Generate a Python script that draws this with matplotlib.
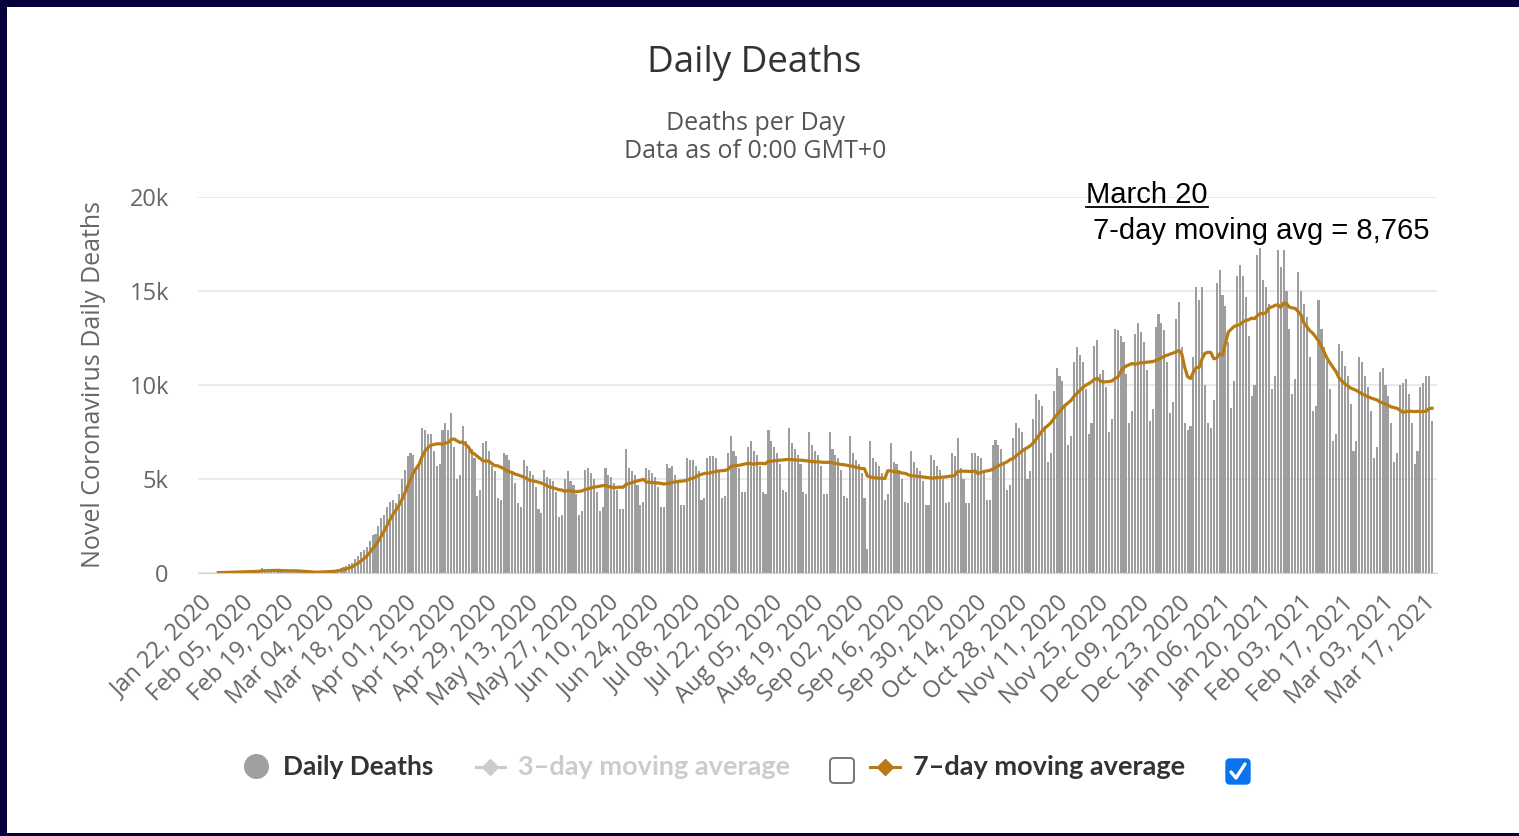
import numpy as np
import pandas as pd
import matplotlib
matplotlib.use('Agg')
import matplotlib.pyplot as plt
from matplotlib.lines import Line2D
from matplotlib.patches import Rectangle, FancyBboxPatch
from matplotlib.transforms import IdentityTransform

# daily deaths, one row per week (Wed .. Tue), starting Jan 22, 2020
start_date = '2020-01-22'
daily_deaths = [
    17, 8, 16, 15, 24, 26, 26,
    38, 43, 46, 45, 57, 64, 66,
    73, 73, 86, 89, 97, 108, 97,
    254, 121, 143, 142, 105, 98, 136,
    115, 118, 109, 97, 150, 71, 52,
    29, 44, 47, 35, 42, 60, 70,
    84, 94, 103, 101, 98, 236, 280,
    330, 380, 470, 520, 760, 900, 1100,
    1200, 1400, 1700, 2000, 2100, 2500, 2900,
    3100, 3500, 3800, 3900, 3700, 4200, 5000,
    5500, 6200, 6400, 6300, 5400, 5800, 7700,
    7600, 7400, 7400, 6500, 5700, 5800, 7600,
    8000, 7600, 8500, 6700, 5000, 5200, 7800,
    7000, 6600, 6600, 6100, 4100, 4400, 6900,
    7000, 6500, 5700, 5400, 4000, 3900, 6400,
    6300, 6000, 5400, 4800, 3700, 3500, 6000,
    5700, 5400, 5200, 4600, 3400, 3200, 5500,
    5100, 5000, 4900, 4300, 3000, 3100, 5000,
    5400, 4900, 4700, 4200, 3100, 3300, 5500,
    5600, 5300, 5000, 4300, 3300, 3500, 5600,
    5200, 5100, 4800, 4400, 3400, 3400, 6600,
    5600, 5400, 5200, 4700, 3600, 3800, 5600,
    5500, 5300, 5100, 4600, 3500, 3500, 5800,
    5600, 5700, 5200, 4800, 3600, 3600, 6100,
    6000, 6000, 5700, 5400, 3900, 4000, 6100,
    6200, 6200, 6100, 5500, 4000, 4100, 6400,
    7300, 6500, 6200, 5600, 4300, 4300, 6700,
    7000, 6500, 6300, 5700, 4300, 4200, 7600,
    7000, 6700, 6400, 5800, 4400, 4300, 7700,
    6900, 6600, 6300, 5800, 4300, 4200, 7500,
    6800, 6500, 6300, 5700, 4200, 4200, 7500,
    6600, 6300, 6100, 5500, 4100, 4000, 7300,
    6400, 6000, 5800, 5300, 4000, 1300, 7000,
    6100, 5900, 5700, 5300, 3900, 4200, 6900,
    5900, 5800, 5500, 5000, 3800, 3700, 6500,
    5900, 5600, 5400, 4900, 3600, 3600, 6300,
    6000, 5700, 5500, 5000, 3700, 3800, 6400,
    6200, 7200, 5600, 5000, 3700, 3700, 6400,
    6400, 6200, 6100, 5300, 3900, 3900, 6800,
    7100, 6800, 6600, 5800, 4400, 4700, 7200,
    8000, 7700, 7500, 6600, 5000, 5400, 8200,
    9500, 9200, 8900, 7800, 5900, 6400, 9700,
    10900, 10500, 10200, 8900, 6800, 7300, 11200,
    12000, 11600, 11200, 9800, 7400, 8000, 12100,
    12400, 10600, 10800, 9900, 7500, 8200, 13000,
    12900, 12600, 12300, 10600, 8000, 8600, 12700,
    13300, 12800, 12300, 10800, 8100, 8700, 13100,
    13800, 13300, 12900, 11200, 8500, 9100, 13500,
    14400, 12000, 8000, 7600, 7800, 11500, 15200,
    14500, 15200, 10000, 8000, 7700, 9200, 15400,
    16100, 14800, 14200, 12300, 8800, 10200, 15800,
    16400, 15800, 14700, 12600, 9400, 10000, 16900,
    17300, 15600, 15200, 14300, 9800, 10500, 17200,
    16300, 17200, 15000, 13000, 9500, 10300, 16000,
    15000, 14300, 13600, 11500, 8600, 8900, 14500,
    13000, 12000, 11300, 9800, 7000, 7400, 12200,
    11800, 11000, 10500, 9000, 6500, 7000, 11500,
    11200, 10500, 9900, 8600, 6100, 6700, 10700,
    10900, 10000, 9400, 8000, 5900, 6400, 10000,
    10100, 10300, 9500, 8000, 5800, 6500, 9900,
    10100, 10500, 10455, 8100,
]

tick_labels = ['Jan 22, 2020', 'Feb 05, 2020', 'Feb 19, 2020', 'Mar 04, 2020', 'Mar 18, 2020',
               'Apr 01, 2020', 'Apr 15, 2020', 'Apr 29, 2020', 'May 13, 2020', 'May 27, 2020',
               'Jun 10, 2020', 'Jun 24, 2020', 'Jul 08, 2020', 'Jul 22, 2020', 'Aug 05, 2020',
               'Aug 19, 2020', 'Sep 02, 2020', 'Sep 16, 2020', 'Sep 30, 2020', 'Oct 14, 2020',
               'Oct 28, 2020', 'Nov 11, 2020', 'Nov 25, 2020', 'Dec 09, 2020', 'Dec 23, 2020',
               'Jan 06, 2021', 'Jan 20, 2021', 'Feb 03, 2021', 'Feb 17, 2021', 'Mar 03, 2021',
               'Mar 17, 2021']
y_ticks = [0, 5000, 10000, 15000, 20000]
y_tick_labels = ['0', '5k', '10k', '15k', '20k']

title = 'Daily Deaths'
subtitle = ['Deaths per Day', 'Data as of 0:00 GMT+0']
y_label = 'Novel Coronavirus Daily Deaths'
note_date = 'March 20'
note_text = '7-day moving avg = 8,765'
legend_labels = ['Daily Deaths', '3\u2013day moving average', '7\u2013day moving average']

bar_color = '#9e9e9e'
line_color = '#b87a12'

W, H = 1519, 836
fig = plt.figure(figsize=(W / 100, H / 100), dpi=100, facecolor='#06003a')
pix = IdentityTransform()

def fx(x):
    return x / W

def fy(y):
    return 1 - y / H

# white panel inside the dark frame
fig.add_artist(Rectangle((7, 3), W - 7, H - 10, transform=pix, facecolor='white',
                         edgecolor='none', zorder=-10))

dates = pd.date_range(start_date, periods=len(daily_deaths), freq='D')
deaths = pd.Series(daily_deaths, index=dates)
ma7 = deaths.rolling(7).mean()
days = np.arange(len(deaths))

ax = fig.add_axes([fx(198), fy(573), fx(1437) - fx(198), fy(197) - fy(573)])
ax.patch.set_visible(False)
ax.bar(days, deaths.values, width=0.72, color=bar_color, zorder=2)
ax.plot(days, ma7.values, color=line_color, lw=2.3, zorder=3, solid_joinstyle='round')

ax.set_xlim(-1.0, 424.7)
ax.set_ylim(0, 20000)
tick_pos = [dates.get_loc(d) for d in pd.to_datetime(tick_labels, format='%b %d, %Y')]
ax.set_xticks(tick_pos)
ax.set_xticklabels(tick_labels, rotation=45, ha='right', va='top', rotation_mode='anchor',
                   fontsize=17, color='#666666', family='Open Sans')
ax.set_yticks(y_ticks)
ax.set_yticklabels(y_tick_labels, fontsize=17, color='#666666', family='Open Sans')
ax.tick_params(axis='x', length=0, pad=13)
ax.tick_params(axis='y', length=0, pad=21)
ax.yaxis.grid(True, color='#e6e6e6', lw=1.2)
ax.set_axisbelow(True)
for s in ['top', 'right', 'left']:
    ax.spines[s].set_visible(False)
ax.spines['bottom'].set_color('#ccd6eb')
ax.spines['bottom'].set_zorder(4)

fig.text(fx(754), fy(63), title, ha='center', va='center', fontsize=26.5, color='#333333',
         family='Open Sans')
fig.text(fx(755), fy(123), subtitle[0], ha='center', va='center', fontsize=18,
         color='#555555', family='Open Sans')
fig.text(fx(755), fy(152), subtitle[1], ha='center', va='center', fontsize=18,
         color='#555555', family='Open Sans')
fig.text(fx(94), fy(385), y_label, rotation=90, ha='center', va='center', fontsize=18,
         color='#666666', family='Open Sans')

# annotation
t1 = fig.text(fx(1086), fy(203), note_date, ha='left', va='baseline', fontsize=21,
              color='black', family='Liberation Sans')
fig.text(fx(1093), fy(239), note_text, ha='left', va='baseline', fontsize=21,
         color='black', family='Liberation Sans')
fig.canvas.draw()
bb = t1.get_window_extent()
fig.add_artist(Line2D([bb.x0, bb.x1], [H - 207, H - 207], transform=pix, color='black', lw=1.3))

# legend
ly = H - 767
fig.add_artist(Line2D([256], [H - 766], transform=pix, marker='o', ms=17, color='#a0a0a0', lw=0))
fig.text(fx(283), fy(767), legend_labels[0], ha='left', va='center', fontsize=19,
         fontweight='bold', color='#333333', family='Lato')
fig.add_artist(Line2D([476, 505], [ly, ly], transform=pix, color='#cccccc', lw=2.2))
fig.add_artist(Line2D([490], [ly], transform=pix, marker='D', ms=8, color='#cccccc', lw=0))
fig.text(fx(518), fy(767), legend_labels[1], ha='left', va='center', fontsize=19.5,
         fontweight='bold', color='#cccccc', family='Lato')
fig.add_artist(FancyBboxPatch((830, H - 783), 24, 25, boxstyle='round,pad=0,rounding_size=4',
                              transform=pix, facecolor='white', edgecolor='#767676', lw=1.4))
fig.add_artist(Line2D([870, 900], [ly, ly], transform=pix, color=line_color, lw=2.2))
fig.add_artist(Line2D([885], [ly], transform=pix, marker='D', ms=8, color=line_color, lw=0))
fig.text(fx(913), fy(767), legend_labels[2], ha='left', va='center', fontsize=19.5,
         fontweight='bold', color='#333333', family='Lato')
fig.add_artist(FancyBboxPatch((1226, H - 784), 24, 25, boxstyle='round,pad=0,rounding_size=4',
                              transform=pix, facecolor='#0a74f0', edgecolor='#0a74f0', lw=1))
fig.add_artist(Line2D([1231, 1236, 1245], [H - 772, H - 778, H - 764], transform=pix,
                      color='white', lw=2.4, solid_capstyle='round'))

fig.savefig('out.png', dpi=100, facecolor=fig.get_facecolor())
